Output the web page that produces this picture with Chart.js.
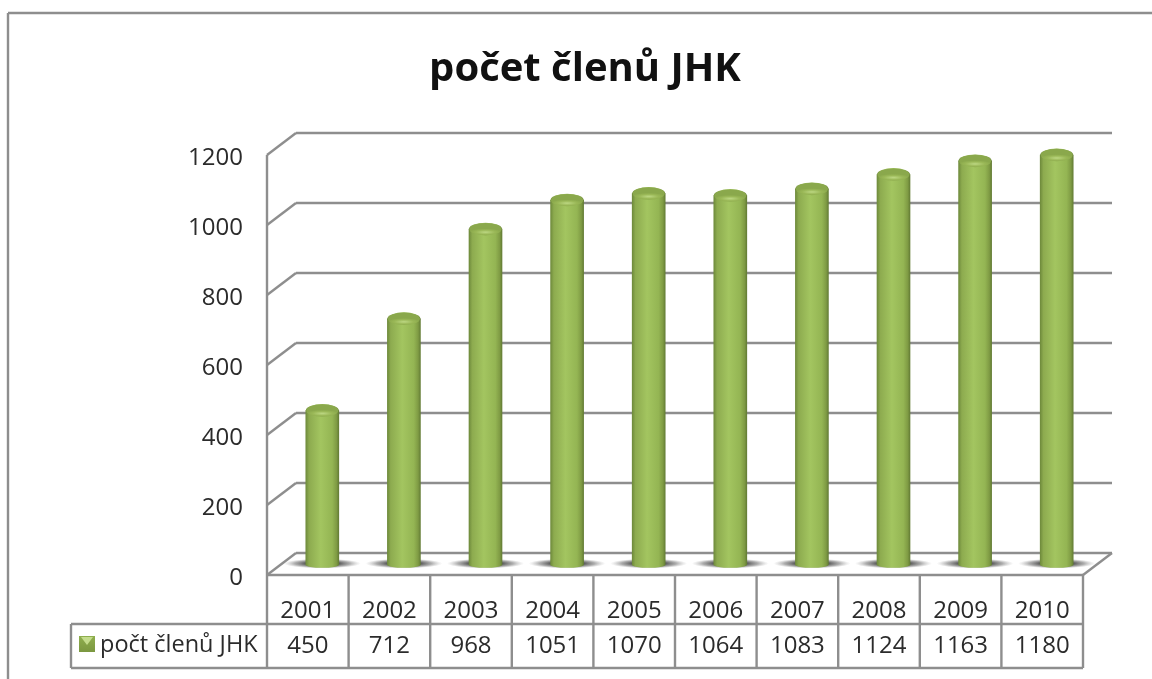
<!DOCTYPE html>
<html lang="cs">
<head>
<meta charset="utf-8">
<title>počet členů JHK</title>
<script src="https://cdn.jsdelivr.net/npm/chart.js@4"></script>
<style>
  html, body { margin: 0; padding: 0; background: #fff; overflow: hidden; }
  canvas { display: block; }
</style>
</head>
<body>
<canvas id="membersChart" width="1152" height="679"></canvas>
<script>
// Data
const years = ['2001','2002','2003','2004','2005','2006','2007','2008','2009','2010'];
const members = [450, 712, 968, 1051, 1070, 1064, 1083, 1124, 1163, 1180];
const seriesName = 'počt členů JHK';
const chartTitle = 'počet členů JHK';

const LINE = '#8e8e8e';
const TEXT = '#2b2b2b';
const FONT = '"Open Sans", "Noto Sans", sans-serif';

// 3D look: back wall offset and bar offset from the front plane
const WALL_DX = 29, WALL_DY = -22;
const BAR_DX = 14.5, BAR_DY = -10;
const TOP_RY = 6.5, BOTTOM_RY = 3;
// tick text sits a little lower than the line it belongs to
const PLANE_DY = -3;

function line(ctx, x1, y1, x2, y2) {
  ctx.beginPath();
  ctx.moveTo(x1, y1);
  ctx.lineTo(x2, y2);
  ctx.stroke();
}

function barGradient(ctx, x, w) {
  const g = ctx.createLinearGradient(x - w / 2, 0, x + w / 2, 0);
  g.addColorStop(0, '#6f8b3c');
  g.addColorStop(0.1, '#8dab4f');
  g.addColorStop(0.45, '#a3c560');
  g.addColorStop(0.8, '#94b553');
  g.addColorStop(0.93, '#7f9b44');
  g.addColorStop(1, '#647d35');
  return g;
}

// back wall, side lines and floor, behind the bars
const wallPlugin = {
  id: 'wall',
  beforeDatasetsDraw(chart) {
    const { ctx, chartArea, scales } = chart;
    const left = chartArea.left, right = chartArea.right;
    ctx.save();
    ctx.strokeStyle = LINE;
    ctx.lineWidth = 2.4;
    scales.y.ticks.forEach(t => {
      const y = scales.y.getPixelForValue(t.value) + PLANE_DY;
      line(ctx, left, y, left + WALL_DX, y + WALL_DY);
      line(ctx, left + WALL_DX, y + WALL_DY, right + WALL_DX, y + WALL_DY);
    });
    const y0 = scales.y.getPixelForValue(0) + PLANE_DY;
    const yMax = scales.y.getPixelForValue(scales.y.max) + PLANE_DY;
    line(ctx, left, yMax, left, y0);
    line(ctx, right, y0, right + WALL_DX, y0 + WALL_DY);

    // floor shadows
    chart.getDatasetMeta(0).data.forEach(bar => {
      ctx.save();
      ctx.translate(bar.x + BAR_DX, y0 - 11.5);
      ctx.scale(1, 0.13);
      const r = bar.width / 2 + 22;
      const g = ctx.createRadialGradient(0, 0, bar.width / 2, 0, 0, r);
      g.addColorStop(0, 'rgba(80,80,80,0.95)');
      g.addColorStop(0.5, 'rgba(120,120,120,0.6)');
      g.addColorStop(1, 'rgba(170,170,170,0)');
      ctx.fillStyle = g;
      ctx.beginPath();
      ctx.arc(0, 0, r, 0, Math.PI * 2);
      ctx.fill();
      ctx.restore();
    });
    ctx.restore();
  }
};

// shift the bars to the middle of the floor and add the cylinder ends
const cylinderPlugin = {
  id: 'cylinder',
  beforeDatasetDraw(chart) {
    chart.ctx.save();
    chart.ctx.translate(BAR_DX, BAR_DY);
  },
  afterDatasetDraw(chart) {
    const { ctx } = chart;
    chart.getDatasetMeta(0).data.forEach(bar => {
      const rx = bar.width / 2;
      // bottom
      ctx.fillStyle = barGradient(ctx, bar.x, bar.width);
      ctx.beginPath();
      ctx.ellipse(bar.x, bar.base, rx, BOTTOM_RY, 0, 0, Math.PI);
      ctx.fill();
      // top
      ctx.fillStyle = barGradient(ctx, bar.x, bar.width);
      ctx.beginPath();
      ctx.ellipse(bar.x, bar.y, rx, TOP_RY, 0, 0, Math.PI * 2);
      ctx.fill();
      ctx.save();
      ctx.beginPath();
      ctx.ellipse(bar.x, bar.y, rx - 0.5, TOP_RY - 0.3, 0, 0, Math.PI * 2);
      ctx.clip();
      ctx.translate(bar.x, bar.y + 3);
      ctx.scale(1, 0.22);
      const g = ctx.createRadialGradient(0, 0, 1, 0, 0, rx);
      g.addColorStop(0, '#b9d47e');
      g.addColorStop(0.55, '#9ab857');
      g.addColorStop(1, '#8aa84c');
      ctx.fillStyle = g;
      ctx.fillRect(-rx, -rx * 5, rx * 2, rx * 10);
      ctx.restore();
    });
    ctx.restore();
  }
};

// data table below the plot
const tablePlugin = {
  id: 'dataTable',
  afterDraw(chart) {
    const { ctx, chartArea, scales } = chart;
    const top = chartArea.bottom + PLANE_DY, mid = 624, bottom = 668, legendLeft = 71;
    ctx.save();
    ctx.strokeStyle = LINE;
    ctx.lineWidth = 2.4;
    // chart frame
    line(ctx, 8, 13, 1152, 13);
    line(ctx, 8, 13, 8, 679);
    // rows
    line(ctx, chartArea.left, top, chartArea.right, top);
    line(ctx, legendLeft, mid, chartArea.right, mid);
    line(ctx, legendLeft, bottom, chartArea.right, bottom);
    line(ctx, legendLeft, mid, legendLeft, bottom);
    // columns
    const step = (chartArea.right - chartArea.left) / years.length;
    for (let i = 0; i <= years.length; i++) {
      const x = chartArea.left + step * i;
      line(ctx, x, top, x, bottom);
    }
    // values
    ctx.fillStyle = TEXT;
    ctx.font = '24px ' + FONT;
    ctx.textAlign = 'center';
    ctx.textBaseline = 'middle';
    members.forEach((v, i) => {
      ctx.fillText(String(v), scales.x.getPixelForValue(i), 646);
    });
    // legend cell
    ctx.textAlign = 'left';
    ctx.font = '23.5px ' + FONT;
    ctx.fillText(seriesName, 100, 645);
    // legend key, a small square with a lighter wedge on top
    const g = ctx.createLinearGradient(0, 636, 0, 652);
    g.addColorStop(0, '#8fae4e');
    g.addColorStop(1, '#7b9740');
    ctx.fillStyle = g;
    ctx.fillRect(79, 636, 16, 16);
    ctx.fillStyle = '#c4dc8c';
    ctx.beginPath();
    ctx.moveTo(81, 637);
    ctx.lineTo(93, 637);
    ctx.lineTo(87, 645);
    ctx.closePath();
    ctx.fill();
    ctx.restore();
  }
};

const ctx = document.getElementById('membersChart').getContext('2d');

new Chart(ctx, {
  type: 'bar',
  data: {
    labels: years,
    datasets: [{
      label: seriesName,
      data: members,
      base: 9,
      barThickness: 33,
      borderWidth: 0,
      // per bar shading; dataset level lookups have no dataIndex
      backgroundColor: c => {
        const x = c.chart.scales.x ? c.chart.scales.x.getPixelForValue(c.dataIndex) : NaN;
        return Number.isFinite(x) ? barGradient(c.chart.ctx, x, 33) : '#9bbb59';
      }
    }]
  },
  options: {
    responsive: false,
    animation: false,
    layout: { autoPadding: false, padding: { left: 87, right: 69, top: 0, bottom: 0 } },
    plugins: {
      legend: { display: false },
      tooltip: { enabled: false },
      title: {
        display: true,
        text: chartTitle,
        color: '#111',
        font: { family: FONT, size: 40, weight: 'bold' },
        padding: { top: 46, bottom: 64 }
      }
    },
    scales: {
      x: {
        grid: { display: false, drawTicks: false },
        border: { display: false },
        afterFit: s => { s.height = 101; },
        ticks: { color: TEXT, maxRotation: 0, padding: 19, font: { family: FONT, size: 24 } }
      },
      y: {
        min: 0,
        max: 1200,
        grid: { display: false, drawTicks: false },
        border: { display: false },
        afterFit: s => { s.width = 180; },
        ticks: {
          color: TEXT,
          stepSize: 200,
          padding: 24,
          font: { family: FONT, size: 24 },
          callback: v => String(v)
        }
      }
    }
  },
  plugins: [wallPlugin, cylinderPlugin, tablePlugin]
});
</script>
</body>
</html>
